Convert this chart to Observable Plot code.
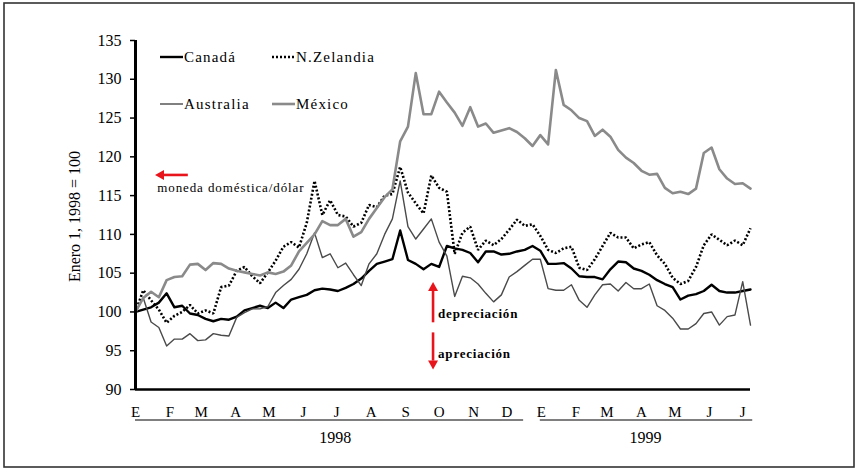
<!DOCTYPE html>
<html><head><meta charset="utf-8">
<script src="https://cdn.jsdelivr.net/npm/d3@7"></script>
<script src="https://cdn.jsdelivr.net/npm/@observablehq/plot@0.6"></script>
<style>body{margin:0;background:#fff}</style>
</head><body><div id="chart"></div>
<script>
// Weekly observations starting 1 Jan 1998 (index 1998-01-01 = 100)
const startDate = "1998-01-01";
const seriesNames = ["Canadá", "N.Zelandia", "Australia", "México"];
const canada = [
  100, 100.3, 100.6, 101.2, 102.4, 100.6, 100.8, 99.8, 99.6, 99.1,
  98.8, 99.1, 99, 99.4, 100.2, 100.5, 100.8, 100.5, 101.2, 100.5,
  101.6, 101.9, 102.2, 102.8, 103, 102.9, 102.7, 103.1, 103.6, 104.3,
  105.3, 106.2, 106.5, 106.8, 110.5, 106.7, 106.2, 105.5, 106.2, 105.8,
  108.5, 108.2, 108, 107.6, 106.4, 107.8, 107.8, 107.4, 107.5, 107.8,
  108, 108.5, 107.9, 106.2, 106.2, 106.3, 105.6, 104.6, 104.5, 104.5,
  104.2, 105.5, 106.5, 106.4, 105.6, 105.3, 104.8, 104.1, 103.6, 103.2,
  101.6, 102.1, 102.3, 102.7, 103.5, 102.7, 102.5, 102.5, 102.7, 102.9
];
const nzelandia = [
  100, 102.8, 101.5, 100.3, 98.6, 99.5, 100, 100.9, 99.8, 100.2,
  99.8, 103.2, 103.4, 105.3, 105.8, 104.6, 103.7, 105.1, 106.6, 108.4,
  109, 108.3, 111.5, 116.9, 112.5, 114.4, 112.5, 112.3, 111, 111.5,
  113.8, 113.5, 115, 115.2, 118.7, 115.4, 114, 112.7, 117.6, 116,
  115.5, 107.5, 110.2, 111, 108, 109.2, 108.6, 109.4, 110.6, 111.9,
  111.1, 111.3, 109.8, 108, 107.6, 108.2, 108.4, 105.7, 105.4, 106.8,
  108.5, 110.2, 109.6, 109.6, 108.2, 108.7, 109, 107.3, 106.2, 104.4,
  103.6, 104, 105.8, 108.6, 110, 109.3, 108.6, 109.2, 108.6, 110.8
];
const australia = [
  100, 101.8, 98.7, 98, 95.6, 96.5, 96.5, 97.2, 96.3, 96.4,
  97.2, 97, 96.9, 99.3, 99.9, 100.4, 100.4, 100.7, 102.5, 103.4,
  104.2, 105.5, 107.5, 110.2, 107, 107.5, 105.7, 106.3, 104.8, 103.4,
  106.2, 107.5, 110, 112, 116.9, 111, 109.4, 110.7, 112, 109,
  107.2, 102, 104.6, 104.4, 103.6, 102.4, 101.3, 102.2, 104.5, 105.2,
  106, 106.8, 106.8, 103, 102.8, 102.8, 103.5, 101.5, 100.6, 102.2,
  103.5, 103.6, 102.7, 103.8, 103, 103, 103.6, 100.8, 100.2, 99.2,
  97.8, 97.8, 98.5, 99.8, 100, 98.3, 99.4, 99.6, 103.9, 98.3
];
const mexico = [
  100, 101.8, 102.6, 101.9, 104.1, 104.5, 104.6, 106.1, 106.2, 105.4,
  106.3, 106.2, 105.6, 105.3, 105.1, 104.9, 104.7, 105.1, 104.9, 105.2,
  106, 107.8, 108.9, 110, 111.7, 111.2, 111.2, 112, 109.7, 110.3,
  112, 113.4, 114.8, 115.8, 122, 123.9, 130.8, 125.5, 125.5, 128.4,
  127, 125.7, 124, 126.4, 123.9, 124.3, 123.1, 123.4, 123.7, 123.2,
  122.4, 121.4, 122.8, 121.6, 131.2, 126.7, 126, 125, 124.6, 122.7,
  123.5, 122.6, 120.9, 119.9, 119.2, 118.2, 117.7, 117.8, 116, 115.3,
  115.5, 115.2, 115.9, 120.5, 121.2, 118.4, 117.2, 116.5, 116.6, 115.9
];
const monthLetters = ["E","F","M","A","M","J","J","A","S","O","N","D","E","F","M","A","M","J","J"];
const yTicks = [90, 95, 100, 105, 110, 115, 120, 125, 130, 135];
const yearLabels = ["1998", "1999"];
const yLabel = "Enero 1, 1998 = 100";

const DAY = 864e5;
const t0 = Date.parse(startDate);
const dates = canada.map((_, i) => new Date(t0 + i * 7 * DAY));
const rows = vals => vals.map((v, i) => ({date: dates[i], value: v}));
const monthDates = monthLetters.map((_, i) => new Date(Date.UTC(1998, i, 1)));
const dayDate = d => new Date(t0 + d * DAY);
const dotted = "2,2";

const plot = Plot.plot({
  width: 857, height: 470,
  marginLeft: 135, marginRight: 107, marginTop: 40, marginBottom: 81,
  style: {fontFamily: "'Liberation Serif', 'Times New Roman', serif", fontSize: "15px", color: "#000", background: "#fff", overflow: "visible"},
  x: {type: "utc", domain: [new Date(t0), dayDate(553)]},
  y: {domain: [90, 135]},
  marks: [
    Plot.axisY({ticks: yTicks, tickSize: 5, tickPadding: 9, label: null, fontSize: 16, strokeWidth: 1.5}),
    Plot.axisX({ticks: monthDates, tickSize: 0, tickPadding: 17, label: null, fontSize: 15,
      tickFormat: d => monthLetters[(d.getUTCFullYear() - 1998) * 12 + d.getUTCMonth()]}),
    Plot.lineY(rows(canada), {x: "date", y: "value", stroke: "#000", strokeWidth: 2.4}),
    Plot.lineY(rows(nzelandia), {x: "date", y: "value", stroke: "#000", strokeWidth: 2.6, strokeDasharray: dotted, strokeLinecap: "butt", strokeLinejoin: "miter"}),
    Plot.lineY(rows(australia), {x: "date", y: "value", stroke: "#4a4a4a", strokeWidth: 1.4}),
    Plot.lineY(rows(mexico), {x: "date", y: "value", stroke: "#8a8a8a", strokeWidth: 2.6}),
    Plot.ruleX([new Date(t0)], {stroke: "#000", strokeWidth: 3}),
    Plot.ruleY([90], {stroke: "#000", strokeWidth: 2.5})
  ]
});
document.getElementById("chart").appendChild(plot);

const X = plot.scale("x"), Y = plot.scale("y");
const px = d => X.apply(d), py = v => Y.apply(v);
const svg = d3.select(plot);
const serif = "'Liberation Serif', 'Times New Roman', serif";

// outer border
svg.insert("rect", ":first-child").attr("x", 4).attr("y", 3).attr("width", 850).attr("height", 464)
  .attr("fill", "#fff").attr("stroke", "#333").attr("stroke-width", 1.6);

// y label
svg.append("text").attr("transform", `translate(80,${(py(90) + py(135)) / 2 + 2}) rotate(-90)`)
  .attr("text-anchor", "middle").attr("font-family", serif).attr("font-size", 16)
  .text(yLabel);

// year underlines and labels
const yearSpans = [[0, 349], [364, 555]];
const yearCenters = [180, 459];
yearSpans.forEach(([a, b]) => svg.append("line").attr("x1", px(dayDate(a))).attr("x2", px(dayDate(b)))
  .attr("y1", 420).attr("y2", 420).attr("stroke", "#555").attr("stroke-width", 1.5));
yearLabels.forEach((t, i) => svg.append("text").attr("x", px(dayDate(yearCenters[i]))).attr("y", 443)
  .attr("text-anchor", "middle").attr("font-family", serif).attr("font-size", 16).text(t));

// legend
const legend = [
  {name: seriesNames[0], x: 160, y: 57, stroke: "#000", w: 2.4, dash: null},
  {name: seriesNames[1], x: 272, y: 57, stroke: "#000", w: 2.6, dash: dotted},
  {name: seriesNames[2], x: 160, y: 104, stroke: "#4a4a4a", w: 1.4, dash: null},
  {name: seriesNames[3], x: 272, y: 104, stroke: "#8a8a8a", w: 2.6, dash: null}
];
legend.forEach(l => {
  svg.append("line").attr("x1", l.x).attr("x2", l.x + 23).attr("y1", l.y).attr("y2", l.y)
    .attr("stroke", l.stroke).attr("stroke-width", l.w).attr("stroke-dasharray", l.dash);
  svg.append("text").attr("x", l.x + 24).attr("y", l.y + 5).attr("font-family", serif)
    .attr("text-anchor", "start").attr("font-size", 15).attr("letter-spacing", 1.2).text(l.name);
});

// annotations (data units)
const red = "#e8141b";
function arrow(x1, y1, x2, y2) {
  const dx = x2 - x1, dy = y2 - y1, len = Math.hypot(dx, dy), ux = dx / len, uy = dy / len;
  const hl = 9, hw = 5;
  const bx = x2 - ux * hl, by = y2 - uy * hl;
  svg.append("line").attr("x1", x1).attr("y1", y1).attr("x2", bx).attr("y2", by)
    .attr("stroke", red).attr("stroke-width", 2.6);
  svg.append("path").attr("d", `M${x2},${y2}L${bx - uy * hw},${by + ux * hw}L${bx + uy * hw},${by - ux * hw}Z`).attr("fill", red);
}
arrow(px(dayDate(47.5)), py(117.6), px(dayDate(18)), py(117.6));
arrow(px(dayDate(268)), py(98.6), px(dayDate(268)), py(103.8));
arrow(px(dayDate(268)), py(97.3), px(dayDate(268)), py(92.5));
svg.append("text").attr("x", px(dayDate(20))).attr("y", py(115.4)).attr("font-family", serif)
  .attr("text-anchor", "start").attr("font-size", 13).attr("letter-spacing", 0.9).text("moneda doméstica/dólar");
svg.append("text").attr("x", px(dayDate(272.5))).attr("y", py(99.1)).attr("font-family", serif)
  .attr("text-anchor", "start").attr("font-size", 13).attr("font-weight", "bold").attr("letter-spacing", 0.8).text("depreciación");
svg.append("text").attr("x", px(dayDate(272.5))).attr("y", py(94)).attr("font-family", serif)
  .attr("text-anchor", "start").attr("font-size", 13).attr("font-weight", "bold").attr("letter-spacing", 0.8).text("apreciación");
</script>
</body></html>
